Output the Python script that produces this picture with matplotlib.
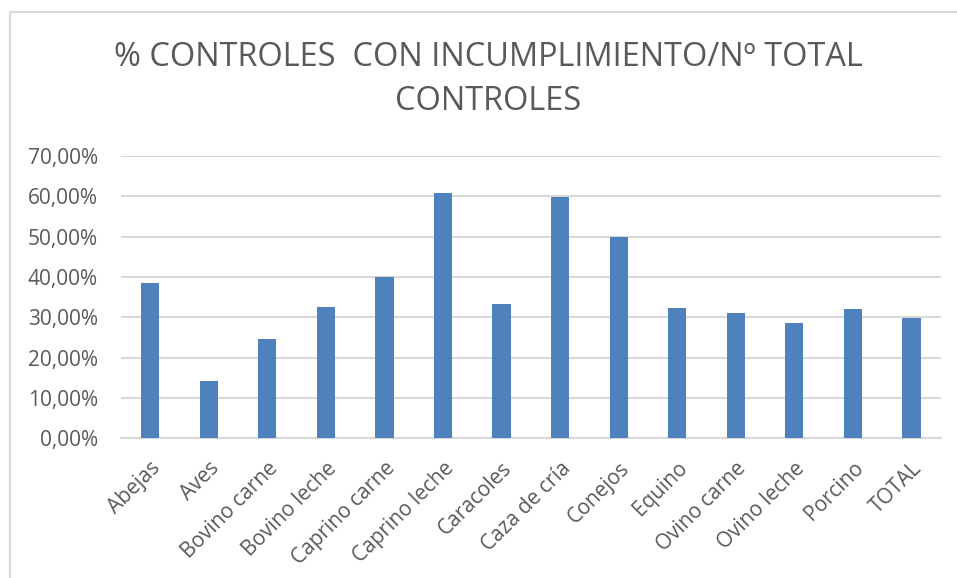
import matplotlib.pyplot as plt
from matplotlib.ticker import FuncFormatter
from matplotlib.patches import Rectangle

categorias = ['Abejas', 'Aves', 'Bovino carne', 'Bovino leche', 'Caprino carne',
              'Caprino leche', 'Caracoles', 'Caza de cría', 'Conejos', 'Equino',
              'Ovino carne', 'Ovino leche', 'Porcino', 'TOTAL']
porcentajes = [38.4, 14.2, 24.5, 32.5, 40.1, 60.8, 33.3, 59.9, 50.0, 32.4,
               31.0, 28.5, 32.0, 29.9]
titulo = '% CONTROLES  CON INCUMPLIMIENTO/Nº TOTAL\nCONTROLES'

plt.rcParams['font.family'] = ['Open Sans', 'DejaVu Sans']
gris = '#595959'

fig = plt.figure(figsize=(9.57, 5.78), dpi=100)
# borde del area del grafico (solo arriba e izquierda visibles)
fig.patches.append(Rectangle((10 / 957, -0.1), 1.2, 1 - 12 / 578 + 0.1,
                             transform=fig.transFigure, fill=False,
                             edgecolor='#d9d9d9', linewidth=1.5))

ax = fig.add_axes([121 / 957, (578 - 438.3) / 578, (940.7 - 121) / 957, (438.3 - 156) / 578])
x = list(range(len(categorias)))
ax.bar(x, porcentajes, width=0.31, color='#4f81bd', zorder=3)

ax.set_xlim(-0.5, len(categorias) - 0.5)
ax.set_ylim(0, 70)
ax.set_yticks(range(0, 71, 10))
ax.yaxis.set_major_formatter(FuncFormatter(lambda v, p: f'{v:.2f}'.replace('.', ',') + '%'))
ax.grid(axis='y', color='#d9d9d9', linewidth=1.5, zorder=0)
for s in ['top', 'right', 'left']:
    ax.spines[s].set_visible(False)
ax.spines['bottom'].set_color('#d9d9d9')
ax.spines['bottom'].set_linewidth(1.5)
ax.tick_params(axis='both', length=0, labelsize=15, labelcolor=gris)
ax.tick_params(axis='y', pad=16.5)
ax.set_xticks(x)
ax.set_xticklabels(categorias, rotation=45, ha='right', va='top', rotation_mode='anchor')
ax.tick_params(axis='x', pad=14)

fig.text(0.51, 1 - 79.5 / 578, titulo, ha='center', va='center', fontsize=23.4,
         color=gris, linespacing=1.42)

fig.savefig('out.png', dpi=100)
